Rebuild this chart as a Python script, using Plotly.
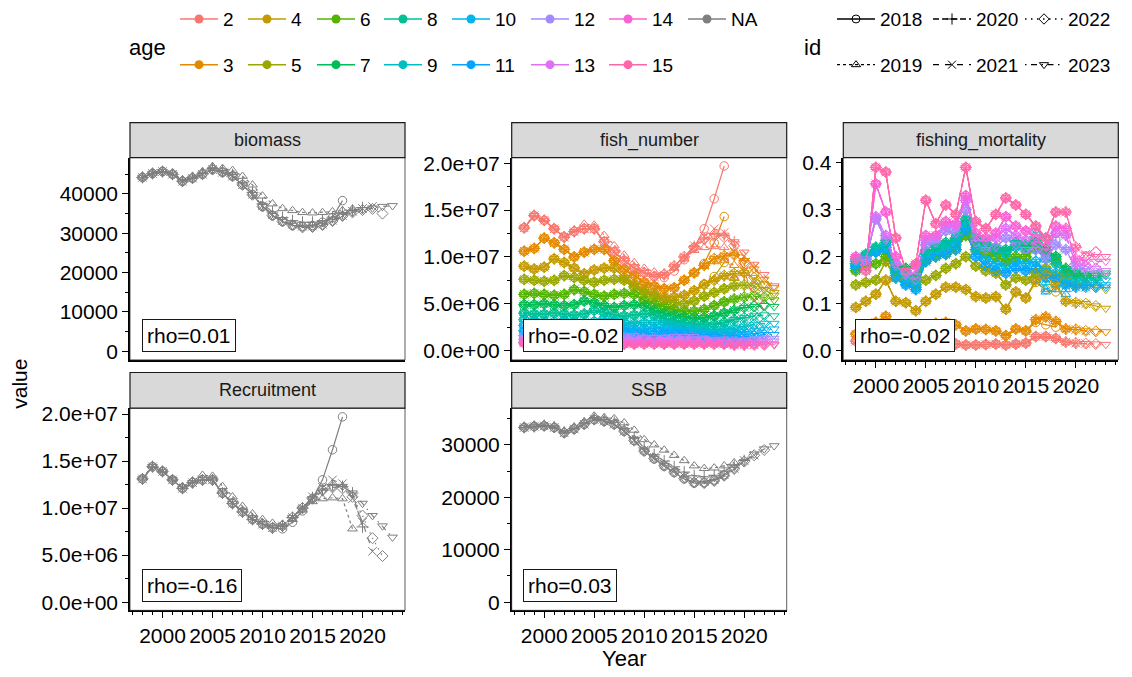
import plotly.graph_objects as go

# ---------------- data ----------------
YEARS = list(range(1998, 2024))
IDS = [2018, 2019, 2020, 2021, 2022, 2023]
AGES = list(range(2, 16))

BIOMASS = {
    2018: [44200, 45200, 45700, 45000, 43200, 44000, 45000, 46200, 45500, 44500, 42300, 39800, 36800, 34500, 33000, 32000, 31700, 32000, 32800, 34000, 38300],
    2019: [44300, 45300, 45900, 45300, 43600, 44500, 45700, 47000, 46500, 46000, 44500, 42300, 39500, 37500, 36300, 35800, 35300, 35200, 35300, 35500, 35800, 36200],
    2020: [44200, 45200, 45700, 45000, 43300, 44100, 45200, 46400, 45800, 44900, 42800, 40400, 37500, 35400, 34000, 33200, 32800, 32800, 33200, 34100, 35100, 35800, 36500],
    2021: [44200, 45200, 45700, 45000, 43200, 44000, 45000, 46200, 45500, 44500, 42300, 39900, 37000, 34700, 33200, 32300, 31800, 31800, 32300, 33300, 34500, 35600, 36300, 36800],
    2022: [44200, 45200, 45700, 45000, 43200, 44000, 45000, 46200, 45500, 44500, 42300, 39800, 36800, 34500, 33000, 32000, 31500, 31600, 32100, 33100, 34400, 35300, 35900, 36200, 35000],
    2023: [44200, 45200, 45700, 45000, 43200, 44000, 45000, 46200, 45500, 44500, 42300, 39800, 36800, 34500, 33000, 32000, 31500, 31500, 32000, 33000, 34300, 35300, 36000, 36400, 36800, 37000],
}

SSB = {
    2018: [33300, 33500, 33600, 33300, 32300, 33000, 33900, 34800, 34500, 33900, 32600, 30800, 28800, 27300, 25900, 24700, 23500, 22700, 22800, 23300, 24300],
    2019: [33400, 33600, 33800, 33500, 32600, 33400, 34400, 35500, 35200, 35000, 34200, 32800, 31000, 30000, 29000, 28000, 27000, 26000, 25500, 25600, 26000, 26600],
    2020: [33300, 33500, 33700, 33400, 32400, 33100, 34100, 35000, 34800, 34300, 33100, 31400, 29400, 28100, 26900, 25800, 24800, 24100, 23900, 24200, 25000, 26000, 27000],
    2021: [33300, 33500, 33600, 33300, 32300, 33000, 33900, 34800, 34500, 33900, 32600, 30900, 29000, 27600, 26300, 25100, 24000, 23100, 23000, 23400, 24300, 25500, 27000, 28000],
    2022: [33300, 33500, 33600, 33300, 32300, 33000, 33900, 34800, 34500, 33900, 32600, 30800, 28800, 27400, 26000, 24800, 23600, 22800, 22700, 23100, 24100, 25400, 26800, 28000, 29000],
    2023: [33300, 33500, 33600, 33300, 32300, 33000, 33900, 34800, 34500, 33900, 32600, 30800, 28800, 27400, 26000, 24800, 23600, 22700, 22600, 23000, 24000, 25300, 26800, 28200, 29200, 29800],
}

# Recruitment (millions of fish) - identical to fish_number at age 2
RECRUITMENT = {
    2018: [13.1, 14.4, 13.9, 13.0, 12.1, 12.7, 13.0, 13.0, 11.6, 10.5, 9.6, 8.8, 8.3, 7.9, 7.8, 8.5, 9.7, 11.0, 13.0, 16.2, 19.7],
    2019: [13.2, 14.5, 14.0, 13.1, 12.3, 12.9, 13.5, 13.4, 12.3, 11.2, 10.2, 9.4, 8.8, 8.4, 8.3, 8.8, 9.8, 10.7, 11.0, 11.1, 11.0, 7.8],
    2020: [13.1, 14.4, 13.9, 13.0, 12.1, 12.7, 13.0, 13.0, 11.6, 10.5, 9.6, 8.8, 8.3, 7.9, 8.1, 9.0, 10.0, 11.1, 11.9, 12.5, 12.3, 11.6, 8.0],
    2021: [13.1, 14.4, 13.9, 13.0, 12.1, 12.7, 13.0, 13.0, 11.6, 10.5, 9.6, 8.8, 8.3, 7.9, 8.1, 9.0, 10.0, 11.2, 12.2, 13.0, 12.6, 11.0, 8.5, 5.4],
    2022: [13.1, 14.4, 13.9, 13.0, 12.1, 12.7, 13.0, 13.0, 11.6, 10.5, 9.6, 8.8, 8.3, 7.9, 8.1, 9.0, 10.0, 11.0, 11.9, 12.2, 12.1, 11.2, 9.2, 6.8, 4.9],
    2023: [13.1, 14.4, 13.9, 13.0, 12.1, 12.7, 13.0, 13.0, 11.6, 10.5, 9.6, 8.8, 8.3, 7.9, 8.1, 9.0, 10.0, 11.0, 11.8, 12.2, 12.3, 11.6, 10.5, 9.2, 8.1, 6.9],
}

# fish_number, terminal run (millions), ages 3..15
FISH_NUMBER = {
    3:  [10.6, 10.9, 12.0, 11.5, 10.8, 10.0, 10.5, 10.8, 10.8, 9.6, 8.7, 8.0, 7.3, 6.9, 6.6, 6.7, 7.5, 8.3, 9.1, 9.8, 10.1, 10.2, 9.6, 8.7, 7.6, 6.7],
    4:  [9.0, 8.7, 8.9, 9.8, 9.4, 8.8, 8.2, 8.6, 8.8, 8.8, 7.8, 7.1, 6.5, 6.1, 5.7, 5.7, 5.9, 6.4, 7.0, 7.5, 8.0, 8.2, 8.3, 7.8, 7.1, 6.2],
    5:  [7.6, 7.5, 7.4, 7.5, 8.0, 7.8, 7.5, 7.3, 7.5, 7.6, 7.5, 6.8, 6.2, 5.8, 5.4, 5.1, 5.0, 5.3, 5.8, 6.2, 6.6, 6.9, 7.0, 6.9, 6.5, 5.9],
    6:  [6.0, 6.1, 6.0, 5.9, 6.0, 6.5, 6.3, 6.0, 5.8, 6.0, 6.1, 6.0, 5.4, 5.0, 4.7, 4.4, 4.2, 4.2, 4.4, 4.8, 5.2, 5.5, 5.7, 5.8, 5.7, 5.4],
    7:  [4.9, 4.9, 5.0, 4.9, 4.8, 4.9, 5.3, 5.1, 4.8, 4.6, 4.8, 4.9, 4.8, 4.3, 4.0, 3.8, 3.6, 3.5, 3.5, 3.7, 4.0, 4.3, 4.6, 4.7, 4.8, 4.7],
    8:  [4.0, 3.9, 3.9, 4.0, 3.9, 3.8, 3.9, 4.3, 4.1, 3.8, 3.7, 3.8, 3.9, 3.8, 3.4, 3.2, 3.0, 2.9, 2.8, 2.8, 3.0, 3.3, 3.5, 3.7, 3.8, 3.7],
    9:  [3.3, 3.2, 3.1, 3.1, 3.2, 3.1, 3.0, 3.1, 3.4, 3.2, 3.0, 2.9, 3.0, 3.0, 3.0, 2.7, 2.5, 2.4, 2.3, 2.2, 2.3, 2.4, 2.6, 2.8, 2.9, 2.9],
    10: [2.7, 2.6, 2.5, 2.4, 2.5, 2.5, 2.4, 2.4, 2.5, 2.7, 2.5, 2.3, 2.3, 2.4, 2.4, 2.4, 2.1, 2.0, 1.9, 1.8, 1.8, 1.9, 2.0, 2.1, 2.2, 2.3],
    11: [2.1, 2.1, 2.0, 1.9, 1.8, 1.9, 1.9, 1.8, 1.9, 1.9, 2.1, 1.9, 1.8, 1.8, 1.9, 1.9, 1.9, 1.6, 1.5, 1.5, 1.4, 1.4, 1.5, 1.6, 1.7, 1.7],
    12: [1.6, 1.6, 1.6, 1.5, 1.4, 1.4, 1.5, 1.4, 1.4, 1.5, 1.5, 1.6, 1.4, 1.4, 1.4, 1.5, 1.5, 1.5, 1.3, 1.2, 1.2, 1.1, 1.1, 1.2, 1.3, 1.3],
    13: [1.2, 1.2, 1.2, 1.1, 1.1, 1.0, 1.1, 1.1, 1.0, 1.1, 1.1, 1.2, 1.2, 1.1, 1.1, 1.1, 1.2, 1.2, 1.2, 1.0, 0.9, 0.9, 0.9, 0.9, 1.0, 1.0],
    14: [0.9, 0.9, 0.9, 0.8, 0.8, 0.8, 0.8, 0.8, 0.8, 0.8, 0.8, 0.8, 0.9, 0.9, 0.8, 0.8, 0.8, 0.9, 0.9, 0.9, 0.8, 0.7, 0.7, 0.7, 0.7, 0.7],
    15: [0.8, 0.8, 0.8, 0.7, 0.7, 0.7, 0.7, 0.7, 0.7, 0.7, 0.7, 0.7, 0.7, 0.7, 0.7, 0.7, 0.7, 0.7, 0.7, 0.7, 0.7, 0.6, 0.6, 0.6, 0.6, 0.6],
}
# final-year values of retrospective peels that differ from the terminal run
FISH_NUMBER_PEEL_TAIL = {
    (2018, 3): [9.3, 11.5, 14.3],
    (2018, 4): [7.1, 7.9, 9.4],
    (2019, 3): [9.0, 9.5, 9.6, 9.1],
    (2019, 4): [7.2, 7.6, 7.9, 7.7],
    (2021, 3): [10.5, 10.1, 8.9],
    (2021, 4): [8.4, 7.6],
    (2022, 3): [9.4, 8.2, 6.9],
    (2022, 5): [6.7, 6.1],
}

# fishing mortality, terminal run, ages 2..15
FISHING_MORTALITY = {
    2:  [0.020, 0.015, 0.015, 0.020, 0.015, 0.012, 0.010, 0.012, 0.013, 0.015, 0.014, 0.012, 0.012, 0.013, 0.014, 0.012, 0.014, 0.016, 0.030, 0.030, 0.026, 0.018, 0.016, 0.015, 0.014, 0.013],
    3:  [0.035, 0.040, 0.060, 0.073, 0.050, 0.045, 0.040, 0.055, 0.058, 0.060, 0.055, 0.042, 0.046, 0.045, 0.042, 0.032, 0.046, 0.042, 0.066, 0.072, 0.062, 0.046, 0.045, 0.042, 0.041, 0.040],
    4:  [0.092, 0.105, 0.120, 0.150, 0.105, 0.102, 0.085, 0.105, 0.120, 0.135, 0.135, 0.130, 0.115, 0.112, 0.115, 0.088, 0.125, 0.112, 0.150, 0.160, 0.140, 0.105, 0.102, 0.100, 0.095, 0.090],
    5:  [0.140, 0.145, 0.150, 0.190, 0.155, 0.150, 0.140, 0.150, 0.160, 0.175, 0.185, 0.200, 0.180, 0.170, 0.165, 0.140, 0.155, 0.150, 0.165, 0.175, 0.160, 0.150, 0.140, 0.140, 0.135, 0.130],
    6:  [0.170, 0.180, 0.185, 0.200, 0.170, 0.170, 0.150, 0.190, 0.200, 0.205, 0.215, 0.245, 0.215, 0.205, 0.200, 0.190, 0.200, 0.200, 0.220, 0.210, 0.190, 0.165, 0.160, 0.155, 0.155, 0.160],
    7:  [0.185, 0.200, 0.215, 0.230, 0.175, 0.175, 0.155, 0.205, 0.215, 0.225, 0.235, 0.270, 0.235, 0.225, 0.215, 0.210, 0.225, 0.220, 0.230, 0.215, 0.200, 0.175, 0.165, 0.160, 0.160, 0.165],
    8:  [0.190, 0.205, 0.220, 0.230, 0.170, 0.165, 0.150, 0.210, 0.220, 0.230, 0.240, 0.280, 0.240, 0.230, 0.220, 0.215, 0.230, 0.225, 0.230, 0.210, 0.195, 0.170, 0.160, 0.155, 0.155, 0.160],
    9:  [0.185, 0.200, 0.215, 0.225, 0.165, 0.155, 0.140, 0.205, 0.215, 0.225, 0.235, 0.275, 0.230, 0.220, 0.210, 0.205, 0.220, 0.215, 0.215, 0.195, 0.185, 0.160, 0.150, 0.150, 0.150, 0.150],
    10: [0.180, 0.195, 0.210, 0.220, 0.160, 0.145, 0.135, 0.195, 0.205, 0.215, 0.225, 0.265, 0.215, 0.195, 0.185, 0.180, 0.190, 0.185, 0.190, 0.170, 0.165, 0.145, 0.140, 0.140, 0.140, 0.140],
    11: [0.175, 0.190, 0.210, 0.215, 0.155, 0.140, 0.130, 0.190, 0.200, 0.205, 0.215, 0.255, 0.200, 0.180, 0.170, 0.165, 0.175, 0.170, 0.175, 0.155, 0.155, 0.140, 0.135, 0.135, 0.135, 0.135],
    12: [0.190, 0.195, 0.280, 0.235, 0.180, 0.160, 0.150, 0.225, 0.230, 0.255, 0.250, 0.300, 0.230, 0.215, 0.220, 0.240, 0.225, 0.215, 0.215, 0.195, 0.225, 0.215, 0.175, 0.170, 0.165, 0.160],
    13: [0.195, 0.190, 0.285, 0.245, 0.185, 0.165, 0.160, 0.235, 0.240, 0.265, 0.265, 0.320, 0.240, 0.230, 0.240, 0.260, 0.245, 0.235, 0.225, 0.210, 0.250, 0.245, 0.185, 0.180, 0.175, 0.170],
    14: [0.200, 0.180, 0.355, 0.295, 0.200, 0.170, 0.180, 0.245, 0.245, 0.275, 0.270, 0.330, 0.250, 0.240, 0.250, 0.285, 0.265, 0.255, 0.240, 0.220, 0.265, 0.260, 0.195, 0.190, 0.190, 0.190],
    15: [0.195, 0.170, 0.390, 0.380, 0.240, 0.170, 0.185, 0.320, 0.270, 0.310, 0.290, 0.390, 0.275, 0.260, 0.290, 0.325, 0.310, 0.290, 0.265, 0.240, 0.295, 0.295, 0.220, 0.205, 0.200, 0.200],
}
FISHING_MORTALITY_PEEL_TAIL = {
    (2018, 3): [0.060, 0.055, 0.050],
    (2018, 4): [0.145, 0.130, 0.125],
    (2018, 8): [0.260, 0.235, 0.235],
    (2018, 12): [0.250, 0.240, 0.250],
    (2019, 9): [0.170, 0.145, 0.150, 0.140],
    (2019, 10): [0.160, 0.130, 0.140, 0.130],
    (2019, 11): [0.150, 0.125, 0.130, 0.120],
    (2022, 14): [0.200, 0.210],
    (2022, 15): [0.200, 0.210],
}

RHO = {"biomass": "rho=0.01", "fish_number": "rho=-0.02", "fishing_mortality": "rho=-0.02",
       "Recruitment": "rho=-0.16", "SSB": "rho=0.03"}

AGE_COLORS = {2: "#F8766D", 3: "#E38900", 4: "#C49A00", 5: "#99A800", 6: "#53B400", 7: "#00BC56",
              8: "#00C094", 9: "#00BFC4", 10: "#00B6EB", 11: "#06A4FF", 12: "#A58AFF", 13: "#DF70F8",
              14: "#FB61D7", 15: "#FF66A8"}
NA_COLOR = "#7F7F7F"
DASH = {2018: "solid", 2019: "3px,3px", 2020: "6px,3px", 2021: "6px,6px", 2022: "1.5px,4.5px",
        2023: "1.5px,4.5px,6px,4.5px"}
SYMBOL = {2018: "circle-open", 2019: "triangle-up-open", 2020: "cross-thin-open", 2021: "x-thin-open",
          2022: "diamond-open", 2023: "triangle-down-open"}

# ---------------- layout helpers ----------------
W, H = 1132, 677
FONT = "Liberation Sans, Arial, sans-serif"


def fx(p):
    return p / W


def fy(p):
    return 1 - p / H


COLS = [(130, 405), (511.7, 786.7), (843.3, 1118.3)]
ROWS = [(116.5, 152, 357.7), (370.5, 406.7, 612.3)]  # strip top, plot top, plot bottom

PANELS = [
    # name, col, row, y-range, tickvals, ticktext, minor, show x labels
    ("biomass", 0, 0, [-2175, 49250], [0, 10000, 20000, 30000, 40000],
     ["0", "10000", "20000", "30000", "40000"], [5000, 15000, 25000, 35000, 45000], False),
    ("fish_number", 1, 0, [-0.99, 20.6], [0, 5, 10, 15, 20],
     ["0.0e+00", "5.0e+06", "1.0e+07", "1.5e+07", "2.0e+07"], [2.5, 7.5, 12.5, 17.5], False),
    ("fishing_mortality", 2, 0, [-0.0197, 0.411], [0, 0.1, 0.2, 0.3, 0.4],
     ["0.0", "0.1", "0.2", "0.3", "0.4"], [0.05, 0.15, 0.25, 0.35], True),
    ("Recruitment", 0, 1, [-0.87, 20.63], [0, 5, 10, 15, 20],
     ["0.0e+00", "5.0e+06", "1.0e+07", "1.5e+07", "2.0e+07"], [2.5, 7.5, 12.5, 17.5], True),
    ("SSB", 1, 1, [-1556, 36994], [0, 10000, 20000, 30000],
     ["0", "10000", "20000", "30000"], [5000, 15000, 25000, 35000], True),
]

fig = go.Figure()


def add_series(k, xs, ys, color, pid):
    sfx = "" if k == 1 else str(k)
    fig.add_trace(go.Scatter(
        x=xs, y=ys, xaxis="x" + sfx, yaxis="y" + sfx, mode="lines+markers",
        line=dict(color=color, width=1.2, dash=DASH[pid]),
        marker=dict(symbol=SYMBOL[pid], size=8.5, color=color, line=dict(color=color, width=1)),
        showlegend=False, hoverinfo="skip"))


def peel(terminal, tails, pid, age):
    n = pid - 1997
    vals = list(terminal[:n])
    tail = tails.get((pid, age))
    if tail:
        vals[n - len(tail):] = tail
    return vals


# panel 1: biomass
for pid in IDS:
    add_series(1, YEARS[:pid - 1997], BIOMASS[pid], NA_COLOR, pid)
# panel 2: fish_number
for pid in IDS:
    for age in AGES:
        if age == 2:
            vals = RECRUITMENT[pid]
        else:
            vals = peel(FISH_NUMBER[age], FISH_NUMBER_PEEL_TAIL, pid, age)
        add_series(2, YEARS[:pid - 1997], vals, AGE_COLORS[age], pid)
# panel 3: fishing_mortality
for pid in IDS:
    for age in AGES:
        vals = peel(FISHING_MORTALITY[age], FISHING_MORTALITY_PEEL_TAIL, pid, age)
        add_series(3, YEARS[:pid - 1997], vals, AGE_COLORS[age], pid)
# panel 4: Recruitment
for pid in IDS:
    add_series(4, YEARS[:pid - 1997], RECRUITMENT[pid], NA_COLOR, pid)
# panel 5: SSB
for pid in IDS:
    add_series(5, YEARS[:pid - 1997], SSB[pid], NA_COLOR, pid)

# ---------------- legends ----------------
AGE_MARKER_X = [195, 263, 332, 399, 467, 546, 624, 703]
ID_MARKER_X = [852, 948, 1040]
age_cols = [[2, 3], [4, 5], [6, 7], [8, 9], [10, 11], [12, 13], [14, 15], ["NA"]]
id_cols = [[2018, 2019], [2020, 2021], [2022, 2023]]
LEG_TOP = -8

legend_layout = {}
lnum = 0
for ci, col in enumerate(age_cols):
    lnum += 1
    lname = "legend" if lnum == 1 else "legend%d" % lnum
    for a in col:
        c = NA_COLOR if a == "NA" else AGE_COLORS[a]
        fig.add_trace(go.Scatter(x=[None], y=[None], mode="lines+markers", name=str(a),
                                 line=dict(color=c, width=1.5),
                                 marker=dict(symbol="circle", size=9, color=c),
                                 legend=lname, legendgroup="age%s" % a, showlegend=True))
    legend_layout[lname] = dict(x=fx(AGE_MARKER_X[ci] - 20), y=fy(LEG_TOP), xanchor="left", yanchor="top",
                                orientation="v", bgcolor="rgba(0,0,0,0)", borderwidth=0,
                                font=dict(family=FONT, size=19, color="black"), itemwidth=38,
                                tracegroupgap=18, traceorder="grouped")
for ci, col in enumerate(id_cols):
    lnum += 1
    lname = "legend%d" % lnum
    for pid in col:
        fig.add_trace(go.Scatter(x=[None], y=[None], mode="lines+markers", name=str(pid),
                                 line=dict(color="black", width=1.3, dash=DASH[pid]),
                                 marker=dict(symbol=SYMBOL[pid], size=8, color="black",
                                             line=dict(color="black", width=1)),
                                 legend=lname, legendgroup="id%s" % pid, showlegend=True))
    legend_layout[lname] = dict(x=fx(ID_MARKER_X[ci] - 20), y=fy(LEG_TOP), xanchor="left", yanchor="top",
                                orientation="v", bgcolor="rgba(0,0,0,0)", borderwidth=0,
                                font=dict(family=FONT, size=19, color="black"), itemwidth=38,
                                tracegroupgap=18, traceorder="grouped")

# ---------------- axes, strips, labels ----------------
shapes = []
annotations = []
axes = {}
for k, (name, ci, ri, yr, tv, tt, minor, showx) in enumerate(PANELS, start=1):
    x0, x1 = COLS[ci]
    st, pt, pb = ROWS[ri]
    sfx = "" if k == 1 else str(k)
    xa = dict(domain=[fx(x0), fx(x1)], anchor="y" + sfx, range=[1996.75, 2024.25],
              showgrid=False, zeroline=False, showline=True, linecolor="black", linewidth=1.5)
    if showx:
        xa.update(tickmode="array", tickvals=[2000, 2005, 2010, 2015, 2020],
                  ticktext=["2000", "2005", "2010", "2015", "2020"], ticks="outside", ticklen=6,
                  tickwidth=1, tickcolor="black", tickfont=dict(family=FONT, size=21, color="black"),
                  minor=dict(tickmode="array", tickvals=list(range(1997, 2025)), ticks="outside",
                             ticklen=3, tickwidth=1, tickcolor="black", showgrid=False))
    else:
        xa.update(showticklabels=False, ticks="")
    ya = dict(domain=[fy(pb), fy(pt)], anchor="x" + sfx, range=yr, showgrid=False, zeroline=False,
              showline=True, linecolor="black", linewidth=1.5, tickmode="array", tickvals=tv,
              ticktext=tt, ticks="outside", ticklen=6, tickwidth=1, tickcolor="black",
              tickfont=dict(family=FONT, size=21, color="black"),
              minor=dict(tickmode="array", tickvals=minor, ticks="outside", ticklen=3, tickwidth=1,
                         tickcolor="black", showgrid=False))
    axes["xaxis" + sfx] = xa
    axes["yaxis" + sfx] = ya
    # panel border
    shapes.append(dict(type="rect", xref="paper", yref="paper", x0=fx(x0), x1=fx(x1), y0=fy(pb),
                       y1=fy(pt), line=dict(color="#333333", width=0.8), fillcolor="rgba(0,0,0,0)",
                       layer="above"))
    # strip
    shapes.append(dict(type="rect", xref="paper", yref="paper", x0=fx(x0), x1=fx(x1), y0=fy(pt),
                       y1=fy(st), line=dict(color="#1a1a1a", width=1.2), fillcolor="#D9D9D9"))
    annotations.append(dict(text=name, xref="paper", yref="paper", x=fx((x0 + x1) / 2),
                            y=fy((st + pt) / 2), showarrow=False, xanchor="center", yanchor="middle",
                            font=dict(family=FONT, size=18, color="#1a1a1a")))
    # rho label
    annotations.append(dict(text=RHO[name], xref="paper", yref="paper", x=fx(x0 + 11.5), y=fy(pb - 8.5),
                            showarrow=False, xanchor="left", yanchor="bottom", bgcolor="white",
                            bordercolor="#1a1a1a", borderwidth=1, borderpad=4,
                            font=dict(family=FONT, size=21, color="black")))

annotations += [
    dict(text="value", xref="paper", yref="paper", x=fx(20), y=fy(382), showarrow=False, textangle=-90,
         xanchor="center", yanchor="middle", font=dict(family=FONT, size=21, color="black")),
    dict(text="Year", xref="paper", yref="paper", x=fx(624), y=fy(661), showarrow=False,
         xanchor="center", yanchor="middle", font=dict(family=FONT, size=22, color="black")),
    dict(text="age", xref="paper", yref="paper", x=fx(147), y=fy(40), showarrow=False,
         xanchor="center", yanchor="middle", font=dict(family=FONT, size=22, color="black")),
    dict(text="id", xref="paper", yref="paper", x=fx(812), y=fy(40), showarrow=False,
         xanchor="center", yanchor="middle", font=dict(family=FONT, size=22, color="black")),
]

fig.update_layout(width=W, height=H, margin=dict(l=0, r=0, t=0, b=0), paper_bgcolor="white",
                  plot_bgcolor="white", font=dict(family=FONT, color="black"),
                  shapes=shapes, annotations=annotations, **axes, **legend_layout)

fig.write_html("out.html")
